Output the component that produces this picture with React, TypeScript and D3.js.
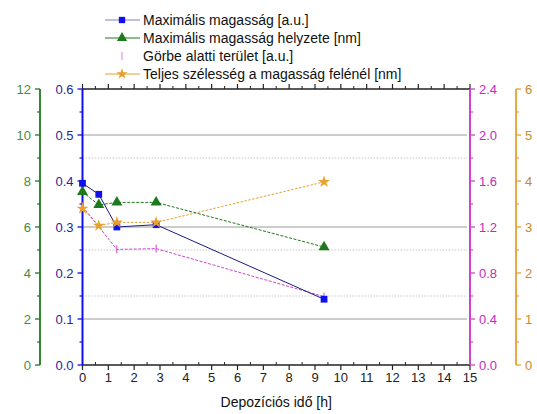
import React from "react";
import * as d3 from "d3";

const times = [0, 0.63, 1.33, 2.85, 9.35];
const maxHeight = [0.395, 0.371, 0.3, 0.305, 0.143];
const peakPos = [7.53, 6.96, 7.07, 7.07, 5.13];
const areaTimes = [0, 1.33, 2.85, 9.35];
const areaVals = [1.38, 1.005, 1.012, 0.595];
const fwhm = [3.4, 3.03, 3.1, 3.1, 3.98];

const xTicks = d3.range(0, 16);
const blueTicks = [0, 0.1, 0.2, 0.3, 0.4, 0.5, 0.6];
const greenTicks = [0, 2, 4, 6, 8, 10, 12];
const magTicks = [0, 0.4, 0.8, 1.2, 1.6, 2.0, 2.4];
const orTicks = [0, 1, 2, 3, 4, 5, 6];
const solidGrid = [0.1, 0.3, 0.5];
const dotGrid = [0.15, 0.25, 0.45];

const legendLabels = [
  "Maximális magasság [a.u.]",
  "Maximális magasság helyzete [nm]",
  "Görbe alatti terület [a.u.]",
  "Teljes szélesség a magasság felénél [nm]",
];

const L = 82.5, R = 470, T = 89, B = 365;
const font = "'Liberation Sans', Arial, sans-serif";
const BLUE = "#1010ee", GREEN = "#1c7a1c", MAG = "#cc44cc", OR = "#e8a030";
const BLUE_T = "#26269a", GREEN_T = "#3f8f3f", MAG_T = "#c02cc0", OR_T = "#c88a2a";

export default function App() {
  const x = d3.scaleLinear().domain([0, 15]).range([L, R]);
  const yB = d3.scaleLinear().domain([0, 0.6]).range([B, T]);
  const yG = d3.scaleLinear().domain([0, 12]).range([B, T]);
  const yM = d3.scaleLinear().domain([0, 2.4]).range([B, T]);
  const yO = d3.scaleLinear().domain([0, 6]).range([B, T]);

  const lineB = d3.line<number>().x((_, i) => x(times[i])).y((d) => yB(d));
  const lineG = d3.line<number>().x((_, i) => x(times[i])).y((d) => yG(d));
  const lineM = d3.line<number>().x((_, i) => x(areaTimes[i])).y((d) => yM(d));
  const lineO = d3.line<number>().x((_, i) => x(times[i])).y((d) => yO(d));

  const sq = d3.symbol(d3.symbolSquare, 46)()!;
  const tri = d3.symbol(d3.symbolTriangle, 52)()!;
  const star = d3.symbol(d3.symbolStar, 45)()!;

  const GX = 40, OX = 516;

  const vAxis = (
    ax: number,
    scale: d3.ScaleLinear<number, number>,
    ticks: number[],
    color: string,
    tcolor: string,
    dir: number,
    fmt: (v: number) => string,
    bracket: boolean
  ) => {
    const minors: number[] = [];
    for (let i = 0; i < ticks.length - 1; i++) minors.push((ticks[i] + ticks[i + 1]) / 2);
    return (
      <g>
        <line x1={ax} x2={ax} y1={T} y2={B} stroke={color} strokeWidth={bracket ? 1.8 : 2} />
        {ticks.map((t) => (
          <g key={"t" + t}>
            <line x1={ax} x2={ax + dir * 5} y1={scale(t)} y2={scale(t)} stroke={color} strokeWidth={1.3} />
            <text
              x={ax + dir * 9}
              y={scale(t)}
              dy="0.35em"
              textAnchor={dir < 0 ? "end" : "start"}
              fill={tcolor}
              fontSize={13}
              fontFamily={font}
            >
              {fmt(t)}
            </text>
          </g>
        ))}
        {minors.map((t) => (
          <line key={"m" + t} x1={ax} x2={ax + dir * 3} y1={scale(t)} y2={scale(t)} stroke={color} strokeWidth={1.2} />
        ))}
      </g>
    );
  };

  const xMinors = d3.range(0.5, 15, 1);

  return (
    <svg width={537} height={414} style={{ position: "absolute", left: 0, top: 0, background: "#fff" }}>
      {/* grid */}
      {solidGrid.map((g) => (
        <line key={"sg" + g} x1={L} x2={R - 3} y1={yB(g)} y2={yB(g)} stroke="#999" strokeWidth={1} />
      ))}
      {dotGrid.map((g) => (
        <line key={"dg" + g} x1={L} x2={R - 3} y1={yB(g)} y2={yB(g)} stroke="#c8c8c8" strokeWidth={1} strokeDasharray="1.5,1.5" />
      ))}

      {/* x axes */}
      <line x1={L} x2={R} y1={B} y2={B} stroke="#222" strokeWidth={1.3} />
      <line x1={L} x2={R} y1={T} y2={T} stroke="#222" strokeWidth={1.3} />
      {xTicks.map((t) => (
        <g key={"x" + t}>
          <line x1={x(t)} x2={x(t)} y1={B} y2={B + 5} stroke="#222" strokeWidth={1.2} />
          <line x1={x(t)} x2={x(t)} y1={T} y2={T - 5} stroke="#222" strokeWidth={1.2} />
          <text x={x(t)} y={B + 17} textAnchor="middle" fontSize={13} fontFamily={font} fill="#222">
            {t}
          </text>
        </g>
      ))}
      {xMinors.map((t) => (
        <g key={"xm" + t}>
          <line x1={x(t)} x2={x(t)} y1={B} y2={B - 3} stroke="#222" strokeWidth={1} />
          <line x1={x(t)} x2={x(t)} y1={T} y2={T - 3} stroke="#222" strokeWidth={1} />
        </g>
      ))}
      <text x={(L + R) / 2} y={407} textAnchor="middle" fontSize={14} fontFamily={font} fill="#111">
        Depozíciós idő [h]
      </text>

      {/* y axes */}
      {vAxis(GX, yG, greenTicks, GREEN, GREEN_T, -1, (v) => String(v), true)}
      {vAxis(L, yB, blueTicks, BLUE, BLUE_T, -1, (v) => v.toFixed(1), false)}
      {vAxis(R, yM, magTicks, MAG, MAG_T, 1, (v) => v.toFixed(1), false)}
      {vAxis(OX, yO, orTicks, OR, OR_T, 1, (v) => String(v), true)}

      {/* series lines */}
      <path d={lineO(fwhm)!} fill="none" stroke={OR} strokeWidth={1} strokeDasharray="2.5,1.5" />
      <path d={lineM(areaVals)!} fill="none" stroke={MAG} strokeWidth={1} strokeDasharray="3,1.5" />
      <path d={lineG(peakPos)!} fill="none" stroke={GREEN} strokeWidth={1} strokeDasharray="3,1.5" />
      <path d={lineB(maxHeight)!} fill="none" stroke="#1a1a80" strokeWidth={1} />

      {/* markers */}
      {areaVals.map((v, i) => (
        <line key={"m" + i} x1={x(areaTimes[i])} x2={x(areaTimes[i])} y1={yM(v) - 4} y2={yM(v) + 4} stroke={MAG} strokeWidth={1} />
      ))}
      {peakPos.map((v, i) => (
        <path key={"g" + i} d={tri} transform={`translate(${x(times[i])},${yG(v)})`} fill={GREEN} />
      ))}
      {maxHeight.map((v, i) => (
        <path key={"b" + i} d={sq} transform={`translate(${x(times[i])},${yB(v)})`} fill={BLUE} />
      ))}
      {fwhm.map((v, i) => (
        <path key={"o" + i} d={star} transform={`translate(${x(times[i])},${yO(v)})`} fill={OR} />
      ))}

      {/* legend */}
      {legendLabels.map((lab, i) => {
        const ly = 20 + i * 18;
        const lx1 = 105, lx2 = 140, mx = 122;
        return (
          <g key={"lg" + i}>
            {i === 0 && (
              <>
                <line x1={lx1} x2={lx2} y1={ly} y2={ly} stroke="#8080c0" strokeWidth={1.2} />
                <path d={d3.symbol(d3.symbolSquare, 40)()!} transform={`translate(${mx},${ly})`} fill={BLUE} />
              </>
            )}
            {i === 1 && (
              <>
                <line x1={lx1} x2={lx2} y1={ly} y2={ly} stroke={GREEN} strokeWidth={1.2} />
                <path d={d3.symbol(d3.symbolTriangle, 46)()!} transform={`translate(${mx},${ly})`} fill={GREEN} />
              </>
            )}
            {i === 2 && <line x1={mx} x2={mx} y1={ly - 4} y2={ly + 4} stroke={MAG} strokeWidth={1} opacity={0.7} />}
            {i === 3 && (
              <>
                <line x1={lx1} x2={lx2} y1={ly} y2={ly} stroke={OR} strokeWidth={1.2} />
                <path d={d3.symbol(d3.symbolStar, 40)()!} transform={`translate(${mx},${ly})`} fill={OR} />
              </>
            )}
            <text x={143} y={ly} dy="0.35em" fontSize={14} fontFamily={font} fill="#111">
              {lab}
            </text>
          </g>
        );
      })}
    </svg>
  );
}
